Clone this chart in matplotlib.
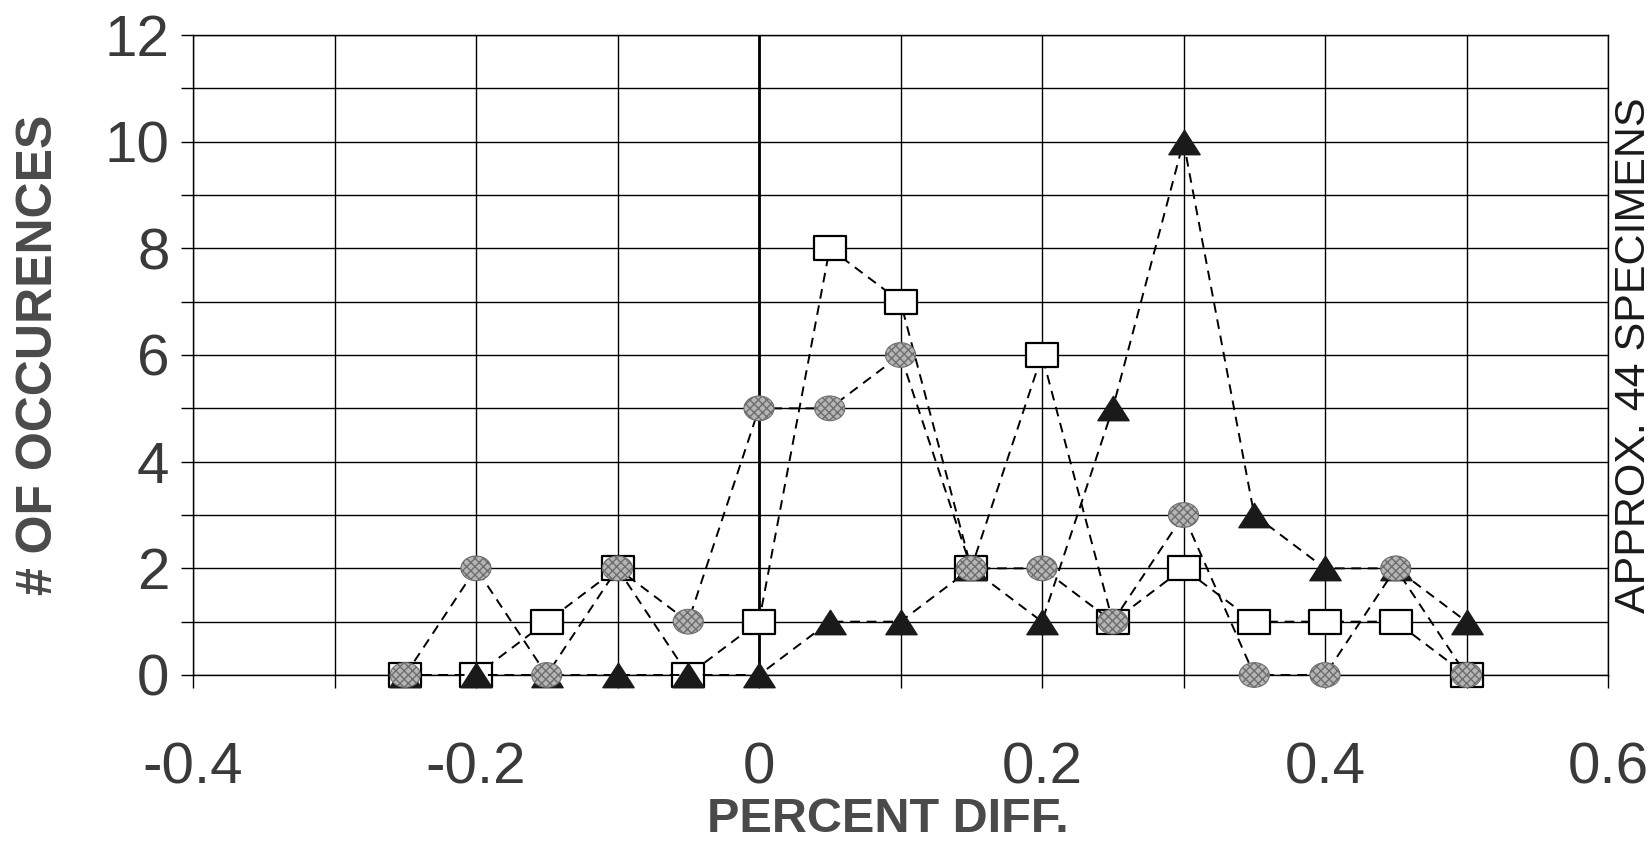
import numpy as np
import matplotlib
matplotlib.use("Agg")
import matplotlib.pyplot as plt
from matplotlib.path import Path
from matplotlib.ticker import MultipleLocator

# ---- data ----
x_vals = [-0.25, -0.2, -0.15, -0.1, -0.05, 0.0, 0.05, 0.1, 0.15, 0.2, 0.25, 0.3, 0.35, 0.4, 0.45, 0.5]
squares = [0, 0, 1, 2, 0, 1, 8, 7, 2, 6, 1, 2, 1, 1, 1, 0]
circles = [0, 2, 0, 2, 1, 5, 5, 6, 2, 2, 1, 3, 0, 0, 2, 0]
triangles = [0, 0, 0, 0, 0, 0, 1, 1, 2, 1, 5, 10, 3, 2, 2, 1]
x_ticks = [-0.4, -0.2, 0, 0.2, 0.4, 0.6]
x_ticklabels = ["-0.4", "-0.2", "0", "0.2", "0.4", "0.6"]
y_ticks = [0, 2, 4, 6, 8, 10, 12]

plt.rcParams['font.family'] = ['Liberation Sans', 'DejaVu Sans']
plt.rcParams['hatch.linewidth'] = 1.0

fig = plt.figure(figsize=(16.51, 8.48), dpi=100)
ax = fig.add_axes([193/1651, 1-675/848, (1608-193)/1651, (675-35)/848])

# custom marker shapes (wider than tall)
rect = Path([(-0.64, -0.5), (0.64, -0.5), (0.64, 0.5), (-0.64, 0.5), (-0.64, -0.5)],
            [Path.MOVETO, Path.LINETO, Path.LINETO, Path.LINETO, Path.CLOSEPOLY])
tri = Path([(-0.64, -0.5), (0.64, -0.5), (0.0, 0.5), (-0.64, -0.5)],
           [Path.MOVETO, Path.LINETO, Path.LINETO, Path.CLOSEPOLY])
uc = Path.unit_circle()
ell = Path(uc.vertices * np.array([1.22, 1.0]), uc.codes)

dash = (0, (5, 3.5))
ax.plot(x_vals, squares, linestyle=dash, color='black', lw=1.4, marker=rect,
        markersize=22.5, mfc='white', mec='black', mew=1.6, zorder=3, clip_on=False)
ax.plot(x_vals, triangles, linestyle=dash, color='black', lw=1.4, marker=tri,
        markersize=22.5, mfc='#1a1a1a', mec='#1a1a1a', mew=1, zorder=4, clip_on=False)
ax.plot(x_vals, circles, linestyle=dash, color='black', lw=1.4, zorder=5, clip_on=False)
ax.scatter(x_vals, circles, marker=ell, s=470, facecolor='#b5b5b5', edgecolor='#6e6e6e',
           hatch='xxxx', linewidths=0.8, zorder=6, clip_on=False)

ax.set_xlim(-0.4, 0.6)
ax.set_ylim(0, 12)
ax.set_xticks(x_ticks)
ax.set_xticklabels(x_ticklabels)
ax.xaxis.set_minor_locator(MultipleLocator(0.1))
ax.set_yticks(y_ticks)
ax.yaxis.set_minor_locator(MultipleLocator(1))
ax.grid(True, which='both', color='black', lw=1.0)
ax.axvline(0, color='black', lw=2.0, zorder=2)

for s in ax.spines.values():
    s.set_color('black')
    s.set_linewidth(1.0)

ax.tick_params(axis='both', which='both', direction='out', length=9, width=1.0, color='black')
ax.tick_params(axis='x', which='major', pad=39, labelsize=42, labelcolor='#3a3a3a')
ax.tick_params(axis='y', which='major', pad=8, labelsize=42, labelcolor='#3a3a3a')

fig.text(39/1651, 1-355/848, '# OF OCCURENCES', rotation=90, ha='center', va='center',
         fontsize=36, fontweight='bold', color='#4a4a4a')
fig.text(888/1651, 1-819/848, 'PERCENT DIFF.', ha='center', va='center',
         fontsize=35, fontweight='bold', color='#4a4a4a')
fig.text(1634/1651, 1-355/848, 'APPROX. 44 SPECIMENS', rotation=90, ha='center', va='center',
         fontsize=31, color='#1a1a1a')

fig.savefig('out.png', dpi=100)
